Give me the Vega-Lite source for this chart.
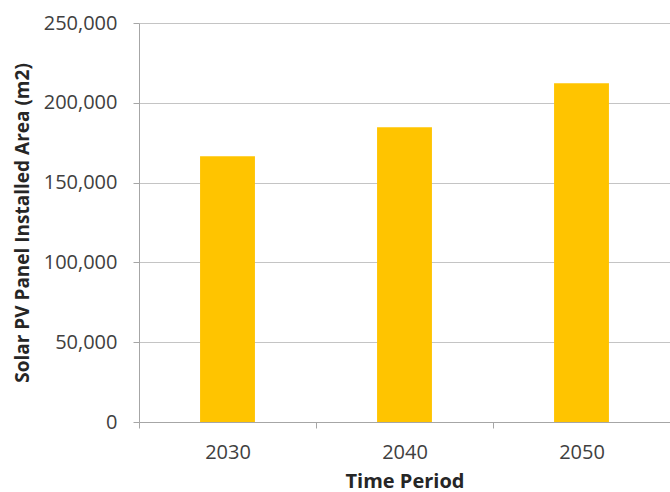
{
  "$schema": "https://vega.github.io/schema/vega-lite/v6.json",
  "width": 531,
  "height": 399,
  "autosize": "none",
  "padding": {"left": 139, "top": 23, "right": 0, "bottom": 70},
  "background": "white",
  "data": {
    "values": [
      {"period": "2030", "area": 166500},
      {"period": "2040", "area": 184700},
      {"period": "2050", "area": 212300}
    ]
  },
  "mark": {"type": "bar", "color": "#FFC400", "width": {"band": 0.31}},
  "encoding": {
    "x": {
      "field": "period",
      "type": "ordinal",
      "scale": {"paddingInner": 0, "paddingOuter": 0},
      "axis": {
        "title": "Time Period",
        "labelAngle": 0,
        "tickBand": "extent",
        "grid": false,
        "domainColor": "#a6a6a6",
        "tickColor": "#a6a6a6",
        "tickSize": 6,
        "labelFont": "Open Sans",
        "labelFontSize": 20,
        "labelColor": "#404040",
        "labelBaseline": "middle",
        "labelPadding": 24,
        "titleFont": "Open Sans",
        "titleFontSize": 20,
        "titleFontWeight": "bold",
        "titleColor": "#262626",
        "titleBaseline": "middle",
        "titleY": 59
      }
    },
    "y": {
      "field": "area",
      "type": "quantitative",
      "scale": {"domain": [0, 250000], "nice": false},
      "axis": {
        "title": "Solar PV Panel Installed Area (m2)",
        "values": [0, 50000, 100000, 150000, 200000, 250000],
        "format": ",.0f",
        "gridColor": "#c4c4c4",
        "domainColor": "#a6a6a6",
        "tickColor": "#a6a6a6",
        "tickSize": 6,
        "labelFont": "Open Sans",
        "labelFontSize": 20,
        "labelColor": "#404040",
        "labelPadding": 16,
        "titleFont": "Open Sans",
        "titleFontSize": 19,
        "titleFontWeight": "bold",
        "titleColor": "#262626",
        "titleBaseline": "middle",
        "titleX": -117,
        "titleY": 199.5
      }
    }
  },
  "config": {"view": {"stroke": null}}
}
